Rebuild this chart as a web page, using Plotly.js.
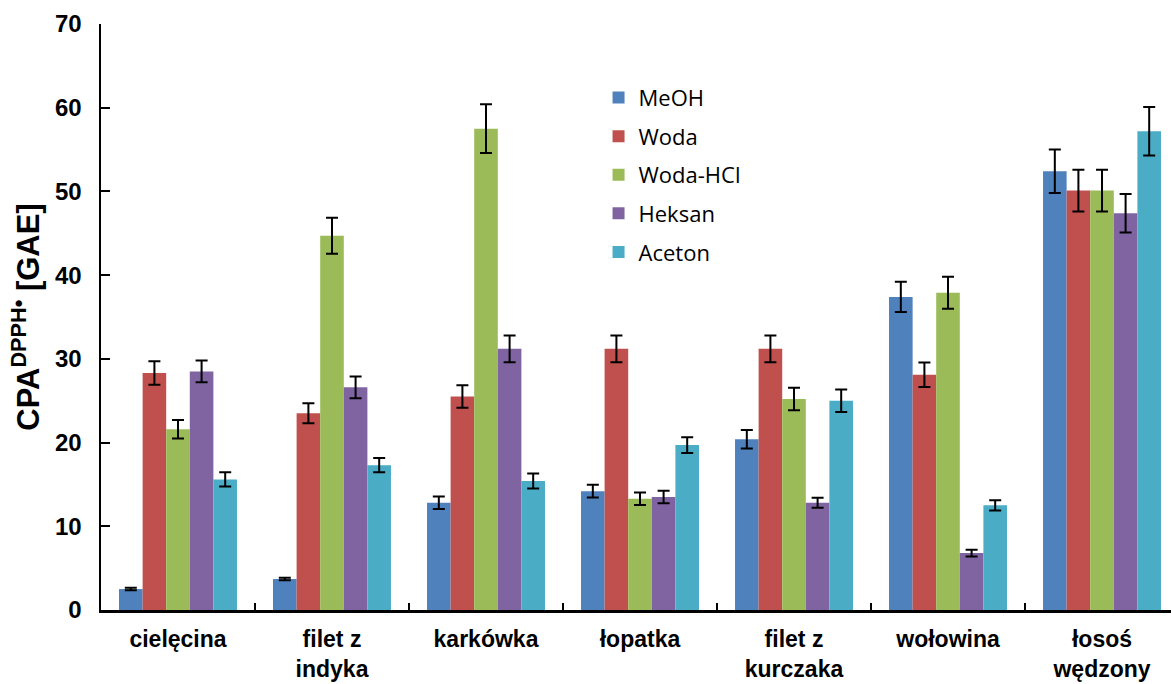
<!DOCTYPE html>
<html>
<head>
<meta charset="utf-8">
<script src="https://cdn.plot.ly/plotly-3.0.1.min.js"></script>
<style>html,body{margin:0;padding:0;background:#fff;}#chart{width:1171px;height:684px;}</style>
</head>
<body>
<div id="chart"></div>
<script>
const categories = ["cielęcina", "filet z<br>indyka", "karkówka", "łopatka", "filet z<br>kurczaka", "wołowina", "łosoś<br>wędzony"];
const seriesNames = ["MeOH", "Woda", "Woda-HCl", "Heksan", "Aceton"];
const meoh     = [2.5, 3.7, 12.8, 14.2, 20.4, 37.4, 52.4];
const woda     = [28.3, 23.5, 25.5, 31.2, 31.2, 28.1, 50.1];
const wodaHCl  = [21.6, 44.7, 57.5, 13.3, 25.2, 37.9, 50.1];
const heksan   = [28.5, 26.6, 31.2, 13.5, 12.8, 6.8, 47.4];
const aceton   = [15.6, 17.3, 15.4, 19.7, 25.0, 12.5, 57.2];
const meohErr    = [0.15, 0.15, 0.75, 0.75, 1.1, 1.8, 2.6];
const wodaErr    = [1.4, 1.2, 1.35, 1.6, 1.6, 1.45, 2.5];
const wodaHClErr = [1.1, 2.15, 2.9, 0.75, 1.35, 1.9, 2.5];
const heksanErr  = [1.3, 1.3, 1.6, 0.75, 0.6, 0.4, 2.3];
const acetonErr  = [0.85, 0.85, 0.9, 0.95, 1.35, 0.6, 2.9];
const colors = ["#4F81BD", "#C0504D", "#9BBB59", "#8064A2", "#4BACC6"];

const values = [meoh, woda, wodaHCl, heksan, aceton];
const errs = [meohErr, wodaErr, wodaHClErr, heksanErr, acetonErr];

const traces = seriesNames.map((name, i) => ({
  type: "bar",
  name: name,
  x: categories,
  y: values[i],
  legendgroup: "g" + i,
  marker: {color: colors[i], line: {width: 0}},
  error_y: {type: "data", array: errs[i], visible: true, color: "#000", thickness: 2, width: 6}
}));

const fam = "Arial, 'Liberation Sans', sans-serif";

const layout = {
  width: 1171, height: 684,
  margin: {l: 101, r: 0, t: 24, b: 74, pad: 0},
  paper_bgcolor: "#fff", plot_bgcolor: "#fff",
  barmode: "group", bargap: 0.234, bargroupgap: 0,
  showlegend: true,
  legend: {
    x: 0.465, y: 0.91, xanchor: "left", yanchor: "top",
    font: {family: "'Open Sans', 'Noto Sans', sans-serif", size: 22, color: "#000"},
    traceorder: "grouped", tracegroupgap: 7, bgcolor: "rgba(0,0,0,0)"
  },
  xaxis: {
    range: [-0.5, 6.448],
    showline: true, linecolor: "#000", linewidth: 2.5,
    ticks: "inside", tickson: "boundaries", ticklen: 7, tickwidth: 2, tickcolor: "#000",
    showgrid: false, zeroline: false,
    tickfont: {family: fam, size: 23, color: "#000", weight: "bold"}, ticklabelstandoff: 7
  },
  yaxis: {
    range: [0, 70], dtick: 10,
    showline: true, linecolor: "#000", linewidth: 2.5,
    ticks: "inside", ticklen: 9, tickwidth: 2, tickcolor: "#000",
    showgrid: false, zeroline: false,
    tickfont: {family: fam, size: 24, color: "#000", weight: "bold"}, ticklabelstandoff: 12,
    title: {text: "CPA<sup>DPPH•</sup> [GAE]", font: {family: fam, size: 31, color: "#000", weight: "bold"}, standoff: 6}
  }
};

Plotly.newPlot("chart", traces, layout, {displayModeBar: false, staticPlot: true});
</script>
</body>
</html>
